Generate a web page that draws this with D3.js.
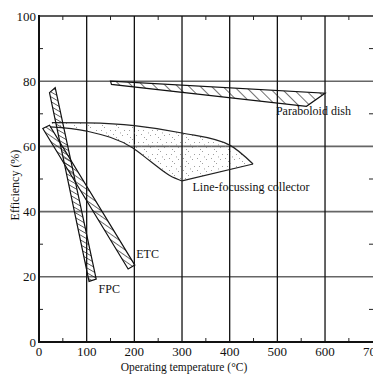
<!DOCTYPE html>
<html>
<head>
<meta charset="utf-8">
<script src="https://cdn.jsdelivr.net/npm/d3@7"></script>
<style>
    body { margin: 0; background: #fff; }
</style>
</head>
<body>
<div id="viz"></div>
<script>
// axis ticks
const xTicks = [0, 100, 200, 300, 400, 500, 600, 700];
const yTicks = [0, 20, 40, 60, 80, 100];
const xMinor = [50, 150, 250, 350, 450, 550, 650];
const yMinor = [10, 30, 50, 70, 90];

// collector bands [temperature, efficiency]
const fpcLeft = [[22, 76.5], [105, 18.6]];
const fpcRight = [[34, 78], [120, 19.3]];
const etcLeft = [[8, 65.5], [187, 22.4]];
const etcRight = [[22, 66.5], [201, 23.6]];
const lfcTop = [[27, 67.3], [100, 67.2], [200, 66.4], [300, 64.1], [400, 60.4], [449, 54.6]];
const lfcBottom = [[23, 66], [100, 64.7], [197, 59.5], [233, 55.5], [275, 51], [300, 49.4]];
const dishTop = [[150, 80], [600, 76.3]];
const dishBottom = [[152, 79], [561, 72.3], [600, 76.3]];

const labels = [
    { text: "Paraboloid dish", x: 497, y: 69.7 },
    { text: "Line-focussing collector", x: 322, y: 46.4 },
    { text: "ETC", x: 204, y: 25.7 },
    { text: "FPC", x: 125, y: 14.9 }
];

const width = 373, height = 374;
const svg = d3.select("#viz").append("svg")
    .attr("width", width)
    .attr("height", height)
    .attr("font-family", "'Liberation Serif', 'Times New Roman', 'DejaVu Serif', serif")
    .style("font-family", "'Liberation Serif', 'Times New Roman', 'DejaVu Serif', serif");

const x = d3.scaleLinear().domain([0, 700]).range([39, 372.7]);
const y = d3.scaleLinear().domain([0, 100]).range([342, 16]);

const defs = svg.append("defs");

function hatch(id, s, angle) {
    const p = defs.append("pattern")
        .attr("id", id)
        .attr("patternUnits", "userSpaceOnUse")
        .attr("width", s)
        .attr("height", s)
        .attr("patternTransform", `rotate(${angle})`);
    p.append("line")
        .attr("x1", 0).attr("y1", 0)
        .attr("x2", 0).attr("y2", s)
        .attr("stroke", "#111")
        .attr("stroke-width", 1.2);
}
hatch("hatchFpc", 4.2, -60);
hatch("hatchEtc", 4.6, -55);
hatch("hatchDish", 8, -45);

// stipple for the line-focussing collector
const dots = defs.append("pattern")
    .attr("id", "stipple")
    .attr("patternUnits", "userSpaceOnUse")
    .attr("width", 14)
    .attr("height", 12);
[[1, 2], [6, 7], [10, 3], [12, 10], [3, 10], [8, 0.5], [4, 5]].forEach(d => {
    dots.append("rect")
        .attr("x", d[0]).attr("y", d[1])
        .attr("width", 0.9).attr("height", 0.9)
        .attr("fill", "#888");
});

// grid
svg.append("g").selectAll("line")
    .data(yTicks.filter(d => d > 0))
    .enter().append("line")
    .attr("x1", x(0)).attr("x2", width)
    .attr("y1", d => y(d)).attr("y2", d => y(d))
    .attr("stroke", d => d === 100 ? "#222" : "#666")
    .attr("stroke-width", 1.6);

svg.append("g").selectAll("line")
    .data(xTicks.filter(d => d > 0 && d < 700))
    .enter().append("line")
    .attr("x1", d => x(d)).attr("x2", d => x(d))
    .attr("y1", y(100)).attr("y2", y(0))
    .attr("stroke", "#111")
    .attr("stroke-width", 1.3);

// minor ticks
const ticks = svg.append("g").attr("stroke", "#222").attr("stroke-width", 1);
xMinor.forEach(d => {
    ticks.append("line").attr("x1", x(d)).attr("x2", x(d)).attr("y1", y(0)).attr("y2", y(0) - 4);
    ticks.append("line").attr("x1", x(d)).attr("x2", x(d)).attr("y1", y(100)).attr("y2", y(100) + 4);
});
yMinor.forEach(d => {
    ticks.append("line").attr("x1", x(0)).attr("x2", x(0) + 4).attr("y1", y(d)).attr("y2", y(d));
    ticks.append("line").attr("x1", width - 4).attr("x2", width).attr("y1", y(d)).attr("y2", y(d));
});

// axes frame
svg.append("line")
    .attr("x1", x(0)).attr("x2", x(0))
    .attr("y1", y(100) - 1).attr("y2", y(0) + 1)
    .attr("stroke", "#111").attr("stroke-width", 2);
svg.append("line")
    .attr("x1", x(0)).attr("x2", width)
    .attr("y1", y(0)).attr("y2", y(0))
    .attr("stroke", "#111").attr("stroke-width", 2);

const straight = d3.line().x(d => x(d[0])).y(d => y(d[1]));
const smooth = d3.line().x(d => x(d[0])).y(d => y(d[1])).curve(d3.curveMonotoneX);

// hatched bands
function band(left, right, fill) {
    const pts = left.concat(right.slice().reverse());
    svg.append("path")
        .attr("d", straight(pts) + "Z")
        .attr("fill", `url(#${fill})`)
        .attr("stroke", "#111")
        .attr("stroke-width", 1.2);
}
band(dishTop, dishBottom, "hatchDish");

// line-focussing collector
const lfcFill = smooth(lfcTop) + "L" + smooth(lfcBottom.slice().reverse()).slice(1) + "Z";
svg.append("path")
    .attr("d", lfcFill)
    .attr("fill", "url(#stipple)")
    .attr("stroke", "none");
[lfcTop, lfcBottom].forEach(pts => {
    svg.append("path")
        .attr("d", smooth(pts))
        .attr("fill", "none")
        .attr("stroke", "#222")
        .attr("stroke-width", 1.2);
});
svg.append("path")
    .attr("d", straight([lfcTop[lfcTop.length - 1], lfcBottom[lfcBottom.length - 1]]))
    .attr("fill", "none")
    .attr("stroke", "#222")
    .attr("stroke-width", 1.2);

band(etcLeft, etcRight, "hatchEtc");
band(fpcLeft, fpcRight, "hatchFpc");

// tick labels
svg.append("g").selectAll("text")
    .data(xTicks)
    .enter().append("text")
    .attr("x", d => x(d))
    .attr("y", 356)
    .attr("text-anchor", "middle")
    .attr("font-size", "13px")
    .attr("fill", "#111")
    .text(d => d);

svg.append("g").selectAll("text")
    .data(yTicks)
    .enter().append("text")
    .attr("x", 36)
    .attr("y", d => y(d) + 4.5)
    .attr("text-anchor", "end")
    .attr("font-size", "13px")
    .attr("fill", "#111")
    .text(d => d);

// axis titles
svg.append("text")
    .attr("x", 184)
    .attr("y", 371)
    .attr("text-anchor", "middle")
    .attr("font-size", "11.5px")
    .attr("fill", "#111")
    .text("Operating temperature (°C)");

svg.append("text")
    .attr("transform", "translate(19,185) rotate(-90)")
    .attr("text-anchor", "middle")
    .attr("font-size", "12px")
    .attr("fill", "#111")
    .text("Efficiency (%)");

// series labels
svg.append("g").selectAll("text")
    .data(labels)
    .enter().append("text")
    .attr("x", d => x(d.x))
    .attr("y", d => y(d.y))
    .attr("font-size", "12px")
    .attr("fill", "#111")
    .text(d => d.text);
</script>
</body>
</html>
